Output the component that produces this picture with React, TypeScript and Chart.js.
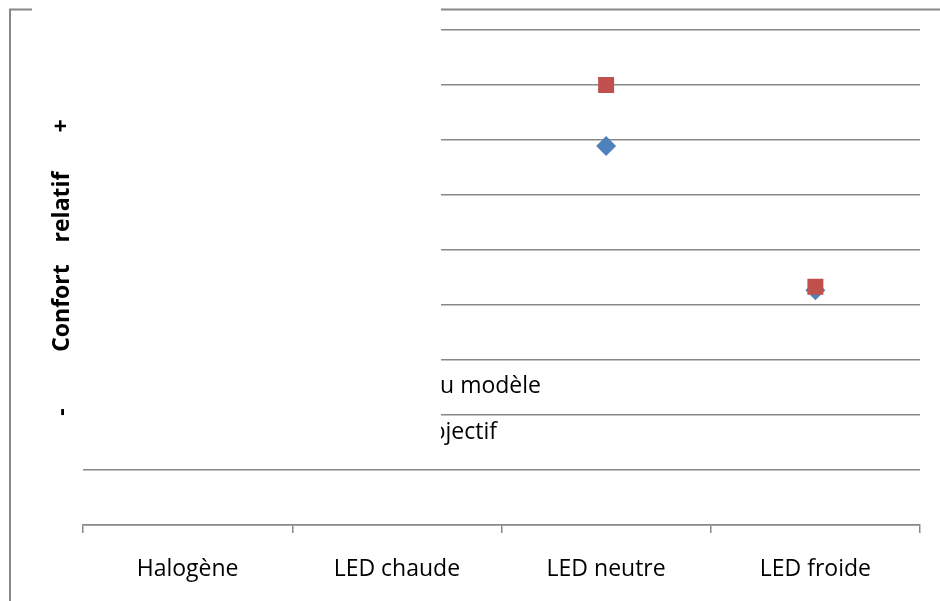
import React, { useEffect, useRef } from "react";
import { Chart, registerables } from "chart.js";

Chart.register(...registerables);

const categories = ["Halogène", "LED chaude", "LED neutre", "LED froide"];
const modelValues = [null, null, 6.89, 4.27];
const subjectiveValues = [null, null, 8.0, 4.33];
const legendLabels = ["Prédiction du modèle", "Confort subjectif"];
const yMin = 0;
const yMax = 9;

const GRAY = "#888888";
const FONT = "'Open Sans', sans-serif";

const decorPlugin = {
  id: "decor",
  beforeDraw(chart: any) {
    const ctx = chart.ctx;
    ctx.save();
    ctx.fillStyle = "#ffffff";
    ctx.fillRect(0, 0, chart.width, chart.height);
    ctx.strokeStyle = GRAY;
    ctx.lineWidth = 2;
    ctx.beginPath();
    ctx.moveTo(10, chart.height);
    ctx.lineTo(10, 9.5);
    ctx.lineTo(chart.width, 9.5);
    ctx.stroke();
    ctx.restore();
  },
  afterDatasetsDraw(chart: any) {
    const ctx = chart.ctx;
    ctx.save();
    // legend texts (mostly hidden behind the white box)
    ctx.fillStyle = "#000000";
    ctx.font = `23px ${FONT}`;
    ctx.textAlign = "right";
    ctx.textBaseline = "alphabetic";
    ctx.fillText(legendLabels[0], 541, 393);
    ctx.fillText(legendLabels[1], 497, 439);
    // white box covering upper-left part
    ctx.fillStyle = "#ffffff";
    ctx.fillRect(32, 0, 441 - 32, 450);
    // y axis title pieces
    ctx.fillStyle = "#000000";
    ctx.translate(62, 0);
    ctx.rotate(-Math.PI / 2);
    ctx.textAlign = "center";
    ctx.textBaseline = "middle";
    ctx.font = `bold 23px ${FONT}`;
    ctx.fillText("+", -126, 0);
    ctx.fillText("relatif", -207, 0);
    ctx.fillText("Confort", -308, 0);
    ctx.fillText("-", -412, 0);
    ctx.restore();
  },
};

export default function App() {
  const ref = useRef<HTMLCanvasElement | null>(null);
  useEffect(() => {
    if (!ref.current) return;
    const chart = new Chart(ref.current, {
      type: "line",
      data: {
        labels: categories,
        datasets: [
          {
            label: legendLabels[0],
            data: modelValues,
            order: 2,
            showLine: false,
            pointStyle: "rectRot",
            pointRadius: 10,
            pointHoverRadius: 10,
            backgroundColor: "#4F81BD",
            borderColor: "#4F81BD",
            pointBorderWidth: 0,
          },
          {
            label: legendLabels[1],
            data: subjectiveValues,
            order: 1,
            showLine: false,
            pointStyle: "rect",
            pointRadius: 11.3,
            pointHoverRadius: 11.3,
            backgroundColor: "#C0504D",
            borderColor: "#C0504D",
            pointBorderWidth: 0,
          },
        ],
      },
      options: {
        animation: false,
        responsive: false,
        events: [],
        layout: { padding: { left: 83, right: 20, top: 30, bottom: 0 } },
        plugins: { legend: { display: false }, tooltip: { enabled: false } },
        scales: {
          x: {
            offset: true,
            grid: {
              offset: true,
              drawOnChartArea: false,
              drawTicks: true,
              tickLength: 8,
              color: GRAY,
              lineWidth: 1.5,
            },
            border: { display: true, color: GRAY, width: 1.5 },
            ticks: {
              color: "#000000",
              font: { family: FONT, size: 23 },
              padding: 23,
              maxRotation: 0,
            },
            afterFit: (s: any) => {
              s.height = 76;
            },
          },
          y: {
            min: yMin,
            max: yMax,
            ticks: { display: false, stepSize: 1 },
            grid: { color: GRAY, lineWidth: 1.5, drawTicks: false },
            border: { display: false },
            afterFit: (s: any) => {
              s.width = 0;
            },
          },
        },
      },
      plugins: [decorPlugin],
    });
    return () => chart.destroy();
  }, []);
  return (
    <div style={{ position: "absolute", left: 0, top: 0, width: 940, height: 601 }}>
      <canvas ref={ref} width={940} height={601} style={{ width: 940, height: 601 }} />
    </div>
  );
}
